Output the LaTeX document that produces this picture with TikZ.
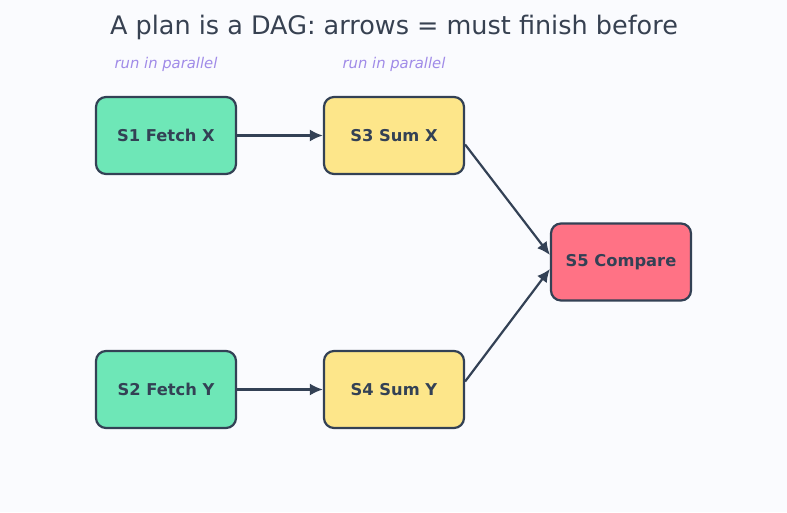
\documentclass[tikz,border=0pt]{standalone}
\usepackage{fontspec}
\setmainfont{DejaVu Sans}
\usetikzlibrary{arrows.meta}
\definecolor{bgc}{HTML}{FAFBFE}
\definecolor{ink}{HTML}{334155}
\definecolor{titlec}{HTML}{374151}
\definecolor{lblc}{HTML}{A08BE8}
\definecolor{greenf}{HTML}{6EE7B7}
\definecolor{yellowf}{HTML}{FDE68A}
\definecolor{redf}{HTML}{FF7285}
\tikzset{
  stepbox/.style={draw=ink, line width=2.2pt, rounded corners=10pt, minimum width=140pt, minimum height=77pt, inner sep=0pt, text=ink, font=\fontsize{16.3}{19}\selectfont\bfseries},
  conn/.style={draw=ink, line width=2.2pt, -{Latex[length=13pt,width=12pt]}},
  lbl/.style={text=lblc, font=\fontsize{14.8}{17}\selectfont\itshape},
}
\begin{document}
\begin{tikzpicture}[x=1pt,y=-1pt]
\fill[bgc] (0,0) rectangle (787,512);
\useasboundingbox (0,0) rectangle (787,512);
\node[text=titlec, font=\fontsize{25.5}{30}\selectfont] (title) at (394,27.5) {A plan is a DAG: arrows = must finish before};
\node[lbl] (l1) at (166,64) {run in parallel};
\node[lbl] (l2) at (394,64) {run in parallel};
\node[stepbox, fill=greenf] (s1) at (166,135.5) {S1 Fetch X};
\node[stepbox, fill=yellowf] (s3) at (394,135.5) {S3 Sum X};
\node[stepbox, fill=greenf] (s2) at (166,389.5) {S2 Fetch Y};
\node[stepbox, fill=yellowf] (s4) at (394,389.5) {S4 Sum Y};
\node[stepbox, fill=redf] (s5) at (621,262) {S5 Compare};
\draw[conn] (s1.east) -- (s3.west);
\draw[conn] (s2.east) -- (s4.west);
\draw[conn] ([yshift=-9pt]s3.east) -- ([yshift=7pt]s5.west);
\draw[conn] ([yshift=8pt]s4.east) -- ([yshift=-7pt]s5.west);
\end{tikzpicture}
\end{document}
